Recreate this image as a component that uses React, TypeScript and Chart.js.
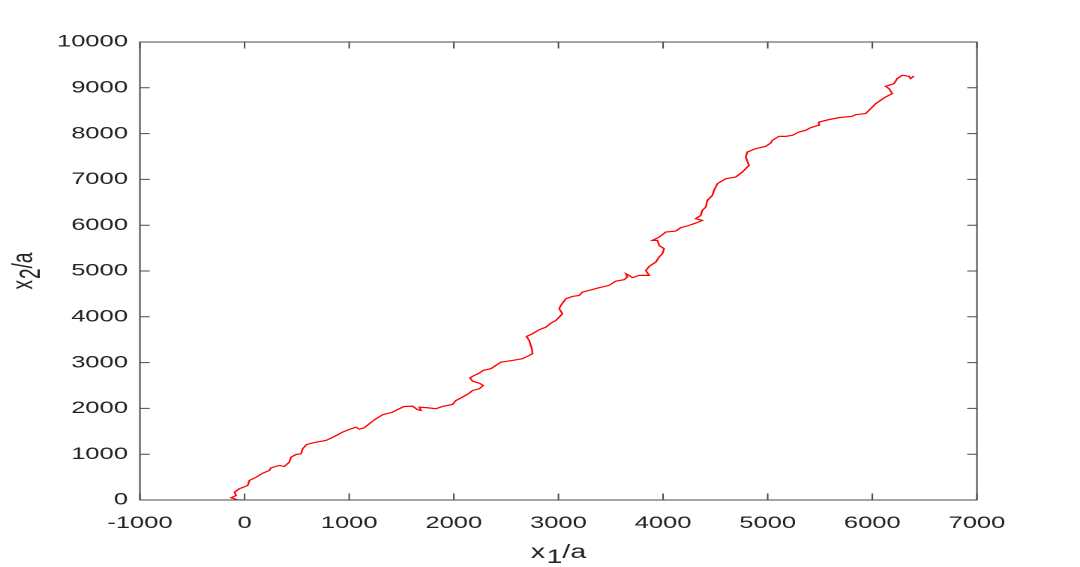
import React, { useEffect, useRef } from "react";
import { Chart, registerables } from "chart.js";

Chart.register(...registerables);

// Trajectory (x1/a, x2/a)
const X1: number[] = [
  -10, -66, -129, -81, -97, -50, 30, 46, 110, 173, 237, 253, 332, 380, 428, 444, 492, 540, 555, 593,
  683, 778, 858, 937, 1017, 1065, 1096, 1144, 1192, 1256, 1319, 1415, 1478, 1526, 1606, 1633, 1653, 1686, 1670, 1749,
  1829, 1892, 1988, 2020, 2083, 2147, 2179, 2243, 2281, 2243, 2179, 2154, 2195, 2243, 2281, 2354, 2402, 2450, 2561, 2656,
  2720, 2752, 2746, 2730, 2720, 2694, 2752, 2816, 2880, 2927, 2975, 3007, 3038, 3007, 3023, 3071, 3134, 3198, 3229, 3293,
  3388, 3484, 3548, 3627, 3659, 3644, 3675, 3707, 3771, 3867, 3835, 3867, 3930, 3962, 3993, 4010, 3962, 3946, 3898, 3962,
  4026, 4121, 4169, 4248, 4312, 4375, 4312, 4360, 4375, 4408, 4423, 4471, 4487, 4519, 4599, 4694, 4757, 4821, 4790, 4805,
  4885, 4981, 5029, 5044, 5108, 5172, 5235, 5299, 5363, 5411, 5483, 5490, 5585, 5681, 5808, 5840, 5936, 5968, 6032, 6127,
  6191, 6159, 6127, 6207, 6238, 6286, 6350, 6366, 6398,
];
const X2: number[] = [
  0, 4, 48, 98, 170, 245, 317, 426, 498, 585, 644, 703, 754, 732, 826, 935, 994, 1009, 1118, 1212,
  1263, 1300, 1387, 1481, 1555, 1590, 1547, 1577, 1664, 1774, 1861, 1918, 1992, 2042, 2049, 2005, 1970, 1955, 2027, 2014,
  1992, 2042, 2086, 2173, 2246, 2333, 2392, 2429, 2501, 2551, 2595, 2669, 2720, 2770, 2829, 2866, 2938, 3010, 3047, 3084,
  3156, 3194, 3303, 3412, 3484, 3571, 3630, 3718, 3775, 3862, 3921, 3993, 4067, 4177, 4249, 4395, 4445, 4467, 4539, 4576,
  4635, 4686, 4779, 4810, 4867, 4941, 4904, 4854, 4904, 4904, 5013, 5100, 5194, 5304, 5378, 5487, 5559, 5668, 5668, 5740,
  5850, 5872, 5946, 5996, 6046, 6105, 6142, 6214, 6324, 6396, 6542, 6651, 6761, 6907, 7016, 7051, 7160, 7307, 7488, 7597,
  7672, 7722, 7794, 7853, 7940, 7940, 7962, 8034, 8071, 8130, 8180, 8253, 8305, 8349, 8377, 8414, 8436, 8508, 8654, 8799,
  8873, 8982, 9032, 9091, 9200, 9273, 9251, 9200, 9257,
];

const X_TICKS: number[] = [-1000, 0, 1000, 2000, 3000, 4000, 5000, 6000, 7000];
const Y_TICKS: number[] = [0, 1000, 2000, 3000, 4000, 5000, 6000, 7000, 8000, 9000, 10000];

const X_TITLE = ["x", "1", "/a"];
const Y_TITLE = ["x", "2", "/a"];

const STRETCH = 1.5;
const W = 720;
const H = 567;
const FONT = "'Liberation Sans', Arial, Helvetica, sans-serif";
const TEXT_COLOR = "#222222";
const AXIS_COLOR = "#4a4a4a";
const TICK_LEN = 6.5;

function drawTitle(ctx: CanvasRenderingContext2D, parts: string[], size: number) {
  ctx.font = `${size}px ${FONT}`;
  const widths = parts.map((p) => ctx.measureText(p).width);
  const total = widths.reduce((a, b) => a + b, 0) + 1;
  let x = -total / 2;
  parts.forEach((p, i) => {
    const dy = i === 1 ? 5 : 0;
    ctx.fillText(p, x, dy);
    x += widths[i] + (i === 0 ? 1 : 0);
  });
}

const framePlugin = {
  id: "frame",
  afterDatasetsDraw(chart: any) {
    const { ctx, chartArea: a, scales } = chart;
    ctx.save();
    ctx.strokeStyle = AXIS_COLOR;
    ctx.lineWidth = 1;
    ctx.strokeRect(a.left, a.top, a.right - a.left, a.bottom - a.top);
    ctx.beginPath();
    for (const v of X_TICKS) {
      const px = scales.x.getPixelForValue(v);
      ctx.moveTo(px, a.bottom);
      ctx.lineTo(px, a.bottom - TICK_LEN);
      ctx.moveTo(px, a.top);
      ctx.lineTo(px, a.top + TICK_LEN);
    }
    for (const v of Y_TICKS) {
      const py = scales.y.getPixelForValue(v);
      ctx.moveTo(a.left, py);
      ctx.lineTo(a.left + TICK_LEN, py);
      ctx.moveTo(a.right, py);
      ctx.lineTo(a.right - TICK_LEN, py);
    }
    ctx.stroke();

    ctx.fillStyle = TEXT_COLOR;
    ctx.textBaseline = "alphabetic";
    ctx.textAlign = "left";
    // x title
    ctx.save();
    ctx.translate((a.left + a.right) / 2, 558);
    drawTitle(ctx, X_TITLE, 19);
    ctx.restore();
    // y title
    ctx.save();
    ctx.translate(21.5, (a.top + a.bottom) / 2);
    ctx.rotate(-Math.PI / 2);
    drawTitle(ctx, Y_TITLE, 19);
    ctx.restore();
    ctx.restore();
  },
};

export default function App() {
  const ref = useRef<HTMLCanvasElement | null>(null);

  useEffect(() => {
    if (!ref.current) return;
    const points = X1.map((x, i) => ({ x, y: X2[i] }));
    const chart = new Chart(ref.current, {
      type: "scatter",
      data: {
        datasets: [
          {
            data: points,
            showLine: true,
            borderColor: "#ff0000",
            backgroundColor: "#ff0000",
            borderWidth: 1.2,
            pointRadius: 0,
            pointHoverRadius: 0,
            tension: 0,
          },
        ],
      },
      options: {
        animation: false,
        responsive: true,
        maintainAspectRatio: false,
        devicePixelRatio: 2,
        events: [],
        layout: { padding: { left: 0, right: 68.7, top: 42, bottom: 0 } },
        plugins: { legend: { display: false }, tooltip: { enabled: false }, title: { display: false } },
        scales: {
          x: {
            type: "linear",
            min: -1000,
            max: 7000,
            afterBuildTicks: (s: any) => {
              s.ticks = X_TICKS.map((v) => ({ value: v }));
            },
            afterFit: (s: any) => {
              s.height = 67;
            },
            grid: { display: false, drawTicks: false },
            border: { display: false },
            ticks: {
              color: TEXT_COLOR,
              font: { family: FONT, size: 17 },
              padding: 13,
              maxRotation: 0,
              autoSkip: false,
              callback: (v: any) => String(v),
            },
          },
          y: {
            type: "linear",
            min: 0,
            max: 10000,
            afterBuildTicks: (s: any) => {
              s.ticks = Y_TICKS.map((v) => ({ value: v }));
            },
            afterFit: (s: any) => {
              s.width = 93.3;
            },
            grid: { display: false, drawTicks: false },
            border: { display: false },
            ticks: {
              color: TEXT_COLOR,
              font: { family: FONT, size: 17 },
              padding: 8,
              autoSkip: false,
              callback: (v: any) => String(v),
            },
          },
        },
      },
      plugins: [framePlugin],
    });
    return () => chart.destroy();
  }, []);

  return (
    <div
      style={{
        position: "fixed",
        left: 0,
        top: 0,
        width: 1080,
        height: H,
        overflow: "hidden",
        background: "#ffffff",
      }}
    >
      <div
        style={{
          position: "relative",
          width: W,
          height: H,
          transform: `scaleX(${STRETCH})`,
          transformOrigin: "0 0",
        }}
      >
        <canvas ref={ref} />
      </div>
    </div>
  );
}
